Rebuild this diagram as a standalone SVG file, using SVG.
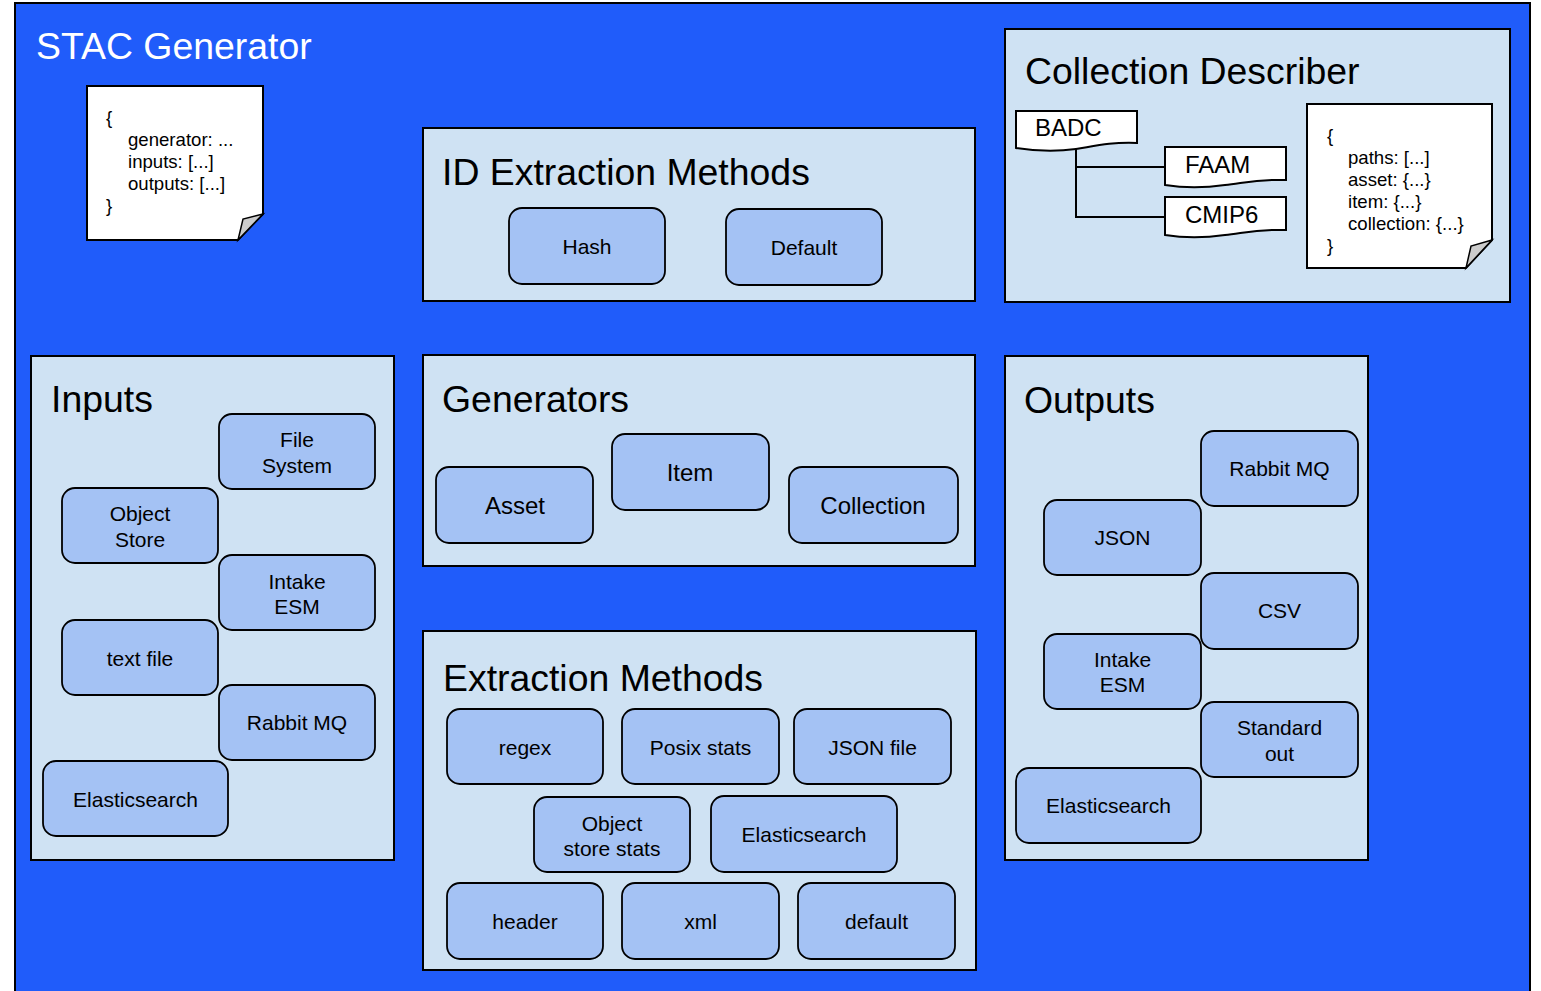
<svg xmlns="http://www.w3.org/2000/svg" width="1541" height="991" viewBox="0 0 1541 991">
<style>
text{font-family:"Liberation Sans",Arial,sans-serif;fill:#000}
.bg{fill:#205cfa;stroke:#000;stroke-width:2}
.panel{fill:#cfe2f3;stroke:#000;stroke-width:2}
.node{fill:#a4c2f4;stroke:#000;stroke-width:1.8}
.doc{fill:#fff;stroke:#000;stroke-width:2}
.fold{fill:#ccc;stroke:#000;stroke-width:1.5}
.title{font-size:37.4px}
.lbl{font-size:21px;text-anchor:middle}
.big{font-size:24px}
.code{font-size:18.6px}
.tag{font-size:24px}
.conn{fill:none;stroke:#000;stroke-width:2}
</style>
<rect width="1541" height="991" fill="#fff"/>
<g id="stac-generator">
<rect class="bg" x="15" y="3" width="1515" height="1000"/>
<text x="36" y="59" class="title" style="fill:#fff">STAC Generator</text>
</g>
<g id="config-doc">
<path class="doc" d="M87,86 H263 V214 L238,240 H87 Z"/>
<path class="fold" d="M263,214 L243,219 L238,240 Z"/>
<text class="code" x="106" y="124">{</text>
<text class="code" x="128" y="146">generator: ...</text>
<text class="code" x="128" y="168">inputs: [...]</text>
<text class="code" x="128" y="190">outputs: [...]</text>
<text class="code" x="106" y="212">}</text>
</g>
<g id="id-extraction">
<rect class="panel" x="423" y="128" width="552" height="173"/>
<text class="title" x="442" y="185">ID Extraction Methods</text>
<g id="id-hash"><rect class="node" x="509" y="208" width="156" height="76" rx="13"/><text class="lbl" x="587" y="254">Hash</text></g>
<g id="id-default"><rect class="node" x="726" y="209" width="156" height="76" rx="13"/><text class="lbl" x="804" y="255">Default</text></g>
</g>
<g id="collection-describer">
<rect class="panel" x="1005" y="29" width="505" height="273"/>
<text class="title" x="1025" y="84">Collection Describer</text>
<g id="cd-badc"><path class="doc" d="M1016,111 H1137 V143 C1110,142 1095,146 1076,149 C1055,152 1035,151 1016,148 Z"/><text class="tag" x="1035" y="136">BADC</text></g>
<g id="cd-faam"><path class="doc" d="M1165,147 H1286 V180 C1259,179 1244,183 1225,185 C1204,188 1184,188 1165,185 Z"/><text class="tag" x="1185" y="173">FAAM</text></g>
<g id="cd-cmip6"><path class="doc" d="M1165,197 H1286 V230 C1259,229 1244,233 1225,235 C1204,238 1184,238 1165,235 Z"/><text class="tag" x="1185" y="223">CMIP6</text></g>
<g id="cd-doc">
<path class="doc" d="M1307,104 H1492 V240 L1466,268 H1307 Z"/>
<path class="fold" d="M1492,240 L1471,246 L1466,268 Z"/>
<text class="code" x="1327" y="142">{</text>
<text class="code" x="1348" y="164">paths: [...]</text>
<text class="code" x="1348" y="186">asset: {...}</text>
<text class="code" x="1348" y="208">item: {...}</text>
<text class="code" x="1348" y="230">collection: {...}</text>
<text class="code" x="1327" y="252">}</text>
</g>
</g>
<g id="connectors">
<path class="conn" d="M1076,149 V217 H1165"/>
<path class="conn" d="M1076,167 H1165"/>
</g>
<g id="inputs">
<rect class="panel" x="31" y="356" width="363" height="504"/>
<text class="title" x="51" y="412">Inputs</text>
<g id="in-fs"><rect class="node" x="219" y="414" width="156" height="75" rx="13"/><text class="lbl" x="297" y="447">File</text><text class="lbl" x="297" y="473">System</text></g>
<g id="in-os"><rect class="node" x="62" y="488" width="156" height="75" rx="13"/><text class="lbl" x="140" y="521">Object</text><text class="lbl" x="140" y="547">Store</text></g>
<g id="in-esm"><rect class="node" x="219" y="555" width="156" height="75" rx="13"/><text class="lbl" x="297" y="589">Intake</text><text class="lbl" x="297" y="614">ESM</text></g>
<g id="in-text"><rect class="node" x="62" y="620" width="156" height="75" rx="13"/><text class="lbl" x="140" y="666">text file</text></g>
<g id="in-rmq"><rect class="node" x="219" y="685" width="156" height="75" rx="13"/><text class="lbl" x="297" y="730">Rabbit MQ</text></g>
<g id="in-es"><rect class="node" x="43" y="761" width="185" height="75" rx="13"/><text class="lbl" x="135.5" y="807">Elasticsearch</text></g>
</g>
<g id="generators">
<rect class="panel" x="423" y="355" width="552" height="211"/>
<text class="title" x="442" y="412">Generators</text>
<g id="gen-asset"><rect class="node" x="436" y="467" width="157" height="76" rx="13"/><text class="lbl big" x="515" y="514">Asset</text></g>
<g id="gen-item"><rect class="node" x="612" y="434" width="157" height="76" rx="13"/><text class="lbl big" x="690" y="481">Item</text></g>
<g id="gen-collection"><rect class="node" x="789" y="467" width="169" height="76" rx="13"/><text class="lbl big" x="873" y="514">Collection</text></g>
</g>
<g id="extraction">
<rect class="panel" x="423" y="631" width="553" height="339"/>
<text class="title" x="443" y="691">Extraction Methods</text>
<g id="ex-regex"><rect class="node" x="447" y="709" width="156" height="75" rx="13"/><text class="lbl" x="525" y="755">regex</text></g>
<g id="ex-posix"><rect class="node" x="622" y="709" width="157" height="75" rx="13"/><text class="lbl" x="700.5" y="755">Posix stats</text></g>
<g id="ex-json"><rect class="node" x="794" y="709" width="157" height="75" rx="13"/><text class="lbl" x="872.5" y="755">JSON file</text></g>
<g id="ex-os"><rect class="node" x="534" y="797" width="156" height="75" rx="13"/><text class="lbl" x="612" y="831">Object</text><text class="lbl" x="612" y="856">store stats</text></g>
<g id="ex-es"><rect class="node" x="711" y="796" width="186" height="76" rx="13"/><text class="lbl" x="804" y="842">Elasticsearch</text></g>
<g id="ex-header"><rect class="node" x="447" y="883" width="156" height="76" rx="13"/><text class="lbl" x="525" y="929">header</text></g>
<g id="ex-xml"><rect class="node" x="622" y="883" width="157" height="76" rx="13"/><text class="lbl" x="700.5" y="929">xml</text></g>
<g id="ex-default"><rect class="node" x="798" y="883" width="157" height="76" rx="13"/><text class="lbl" x="876.5" y="929">default</text></g>
</g>
<g id="outputs">
<rect class="panel" x="1005" y="356" width="363" height="504"/>
<text class="title" x="1024" y="413">Outputs</text>
<g id="out-rmq"><rect class="node" x="1201" y="431" width="157" height="75" rx="13"/><text class="lbl" x="1279.5" y="476">Rabbit MQ</text></g>
<g id="out-json"><rect class="node" x="1044" y="500" width="157" height="75" rx="13"/><text class="lbl" x="1122.5" y="545">JSON</text></g>
<g id="out-csv"><rect class="node" x="1201" y="573" width="157" height="76" rx="13"/><text class="lbl" x="1279.5" y="618">CSV</text></g>
<g id="out-esm"><rect class="node" x="1044" y="634" width="157" height="75" rx="13"/><text class="lbl" x="1122.5" y="667">Intake</text><text class="lbl" x="1122.5" y="692">ESM</text></g>
<g id="out-stdout"><rect class="node" x="1201" y="702" width="157" height="75" rx="13"/><text class="lbl" x="1279.5" y="735">Standard</text><text class="lbl" x="1279.5" y="761">out</text></g>
<g id="out-es"><rect class="node" x="1016" y="768" width="185" height="75" rx="13"/><text class="lbl" x="1108.5" y="813">Elasticsearch</text></g>
</g>
</svg>
